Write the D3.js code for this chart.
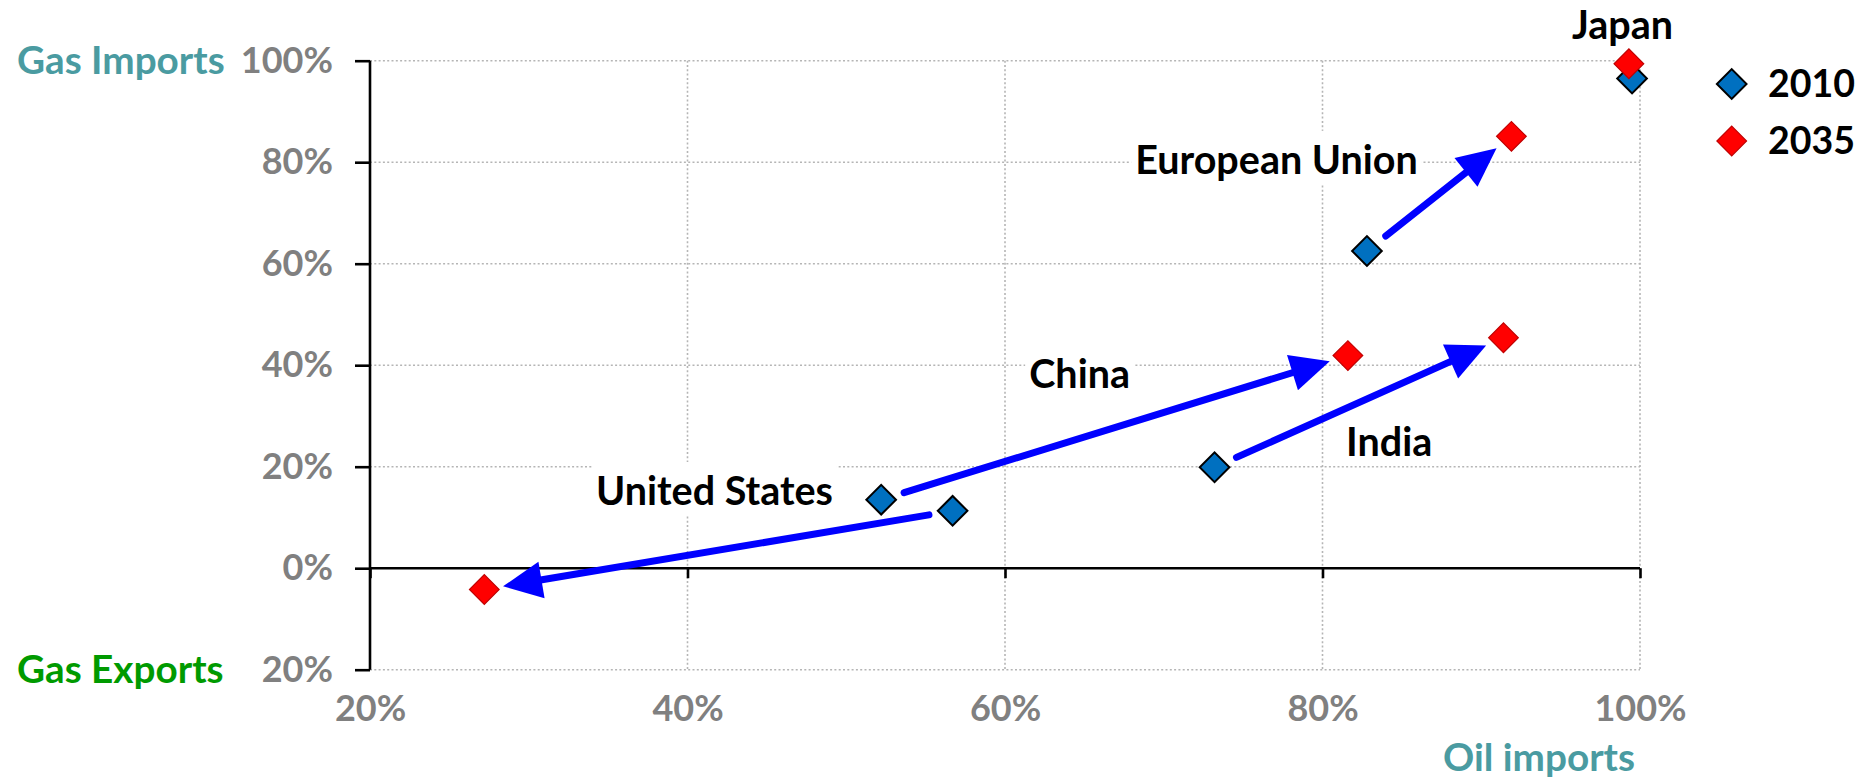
<!DOCTYPE html>
<html>
<head>
<meta charset="utf-8">
<script src="https://cdn.jsdelivr.net/npm/d3@7/dist/d3.min.js"></script>
<style>
  html, body { margin: 0; padding: 0; background: #ffffff; }
  svg { display: block; }
  text { font-family: Lato, "Open Sans", sans-serif; font-weight: bold; }
</style>
</head>
<body>
<svg id="chart" width="1865" height="779"></svg>
<script>
// ---- data ----
const countries = ["Japan", "European Union", "China", "United States", "India"];
const oil2010 = [99.5, 82.8, 52.2, 56.7, 73.2];
const gas2010 = [96.5, 62.5, 13.5, 11.3, 19.9];
const oil2035 = [99.3, 91.9, 81.6, 27.2, 91.4];
const gas2035 = [99.4, 85.1, 41.9, -4.2, 45.4];
const seriesNames = ["2010", "2035"];
const xTicks = [20, 40, 60, 80, 100];
const xTickLabels = ["20%", "40%", "60%", "80%", "100%"];
const yTicks = [-20, 0, 20, 40, 60, 80, 100];
const yTickLabels = ["20%", "0%", "20%", "40%", "60%", "80%", "100%"];
// label anchors (in data units)
const labelOil = [98.9, 77.1, 64.7, 41.7, 84.2];
const labelGas = [104.3, 77.7, 35.5, 12.45, 22.1];

// ---- layout / style ----
const W = 1865, H = 779;
const colors = { "2010": "#0070c0", "2035": "#ff0000" };
const strokes = { "2010": "#000000", "2035": "#c00000" };
const svg = d3.select("#chart");
svg.append("rect").attr("width", W).attr("height", H).attr("fill", "#fff");

const x = d3.scaleLinear().domain([20, 100]).range([370, 1640]);
const y = d3.scaleLinear().domain([-20, 100]).range([669.7, 60.7]);

// grid
const grid = svg.append("g").attr("stroke", "#b5b5b5").attr("stroke-width", 1.6)
  .attr("stroke-dasharray", "2,2.3");
grid.selectAll("line.v").data(xTicks.filter(d => d > 20)).join("line")
  .attr("x1", d => x(d)).attr("x2", d => x(d))
  .attr("y1", y(100)).attr("y2", y(-20));
grid.selectAll("line.h").data(yTicks.filter(d => d !== 0)).join("line")
  .attr("x1", x(20)).attr("x2", x(100))
  .attr("y1", d => y(d)).attr("y2", d => y(d));

// country labels with white boxes
const lab = svg.append("g");
countries.forEach((c, i) => {
  const g = lab.append("g");
  const t = g.append("text")
    .attr("x", x(labelOil[i])).attr("y", y(labelGas[i]))
    .attr("text-anchor", "middle").attr("font-size", 39.5).attr("fill", "#000")
    .text(c);
  const bb = t.node().getBBox();
  const top = Math.max(0, y(labelGas[i]) - 43);
  g.insert("rect", "text")
    .attr("x", bb.x - 4).attr("y", top)
    .attr("width", bb.width + 8).attr("height", y(labelGas[i]) + 10 - top)
    .attr("fill", "#fff");
});

// y axis
const yAxis = d3.axisLeft(y).tickValues(yTicks)
  .tickFormat((d, i) => yTickLabels[i]).tickSize(15).tickPadding(22);
const gy = svg.append("g").attr("transform", `translate(${x(20)},0)`).call(yAxis);
gy.select(".domain").attr("stroke", "#000").attr("stroke-width", 2.6)
  .attr("d", `M0,${y(-20)}V${y(100)}`);
gy.selectAll(".tick line").attr("stroke", "#000").attr("stroke-width", 2.6);
gy.selectAll(".tick text").attr("font-size", 36).attr("fill", "#808080")
  .attr("font-family", "Lato, sans-serif").attr("font-weight", "bold");

// x axis line at zero with ticks
const xAxis0 = d3.axisBottom(x).tickValues(xTicks).tickFormat("").tickSize(10);
const gx0 = svg.append("g").attr("transform", `translate(0,${y(0)})`).call(xAxis0);
gx0.select(".domain").attr("stroke", "#000").attr("stroke-width", 2.6)
  .attr("d", `M${x(20)},0H${x(100)}`);
gx0.selectAll(".tick line").attr("stroke", "#000").attr("stroke-width", 2.6);

// x tick labels at bottom
const xAxisB = d3.axisBottom(x).tickValues(xTicks)
  .tickFormat((d, i) => xTickLabels[i]).tickSize(0).tickPadding(26);
const gxb = svg.append("g").attr("transform", `translate(0,${y(-20)})`).call(xAxisB);
gxb.select(".domain").remove();
gxb.selectAll(".tick text").attr("font-size", 36).attr("fill", "#808080")
  .attr("font-family", "Lato, sans-serif").attr("font-weight", "bold");

// axis titles
svg.append("text").attr("x", 17).attr("y", 74).attr("font-size", 38.7)
  .attr("fill", "#4a9ba1").text("Gas Imports");
svg.append("text").attr("x", 17).attr("y", 683).attr("font-size", 38.7)
  .attr("fill", "#009a00").text("Gas Exports");
svg.append("text").attr("x", 1539).attr("y", 771).attr("font-size", 38.7)
  .attr("text-anchor", "middle").attr("fill", "#4a9ba1").text("Oil imports");

// arrows (2010 -> 2035), skip Japan
const arrows = svg.append("g");
const startGap = 24, tipGap = 19, headLen = 39, headW = 37, lw = 7;
countries.forEach((c, i) => {
  if (c === "Japan") return;
  const x0 = x(oil2010[i]), y0 = y(gas2010[i]);
  const x1 = x(oil2035[i]), y1 = y(gas2035[i]);
  const dx = x1 - x0, dy = y1 - y0, L = Math.hypot(dx, dy);
  const ux = dx / L, uy = dy / L, nx = -uy, ny = ux;
  const sx = x0 + ux * startGap, sy = y0 + uy * startGap;
  const tx = x1 - ux * tipGap, ty = y1 - uy * tipGap;
  const bx = tx - ux * headLen, by = ty - uy * headLen;
  arrows.append("line")
    .attr("x1", sx).attr("y1", sy)
    .attr("x2", bx + ux * 4).attr("y2", by + uy * 4)
    .attr("stroke", "#0000ff").attr("stroke-width", lw).attr("stroke-linecap", "round");
  arrows.append("path")
    .attr("d", d3.line()([[tx, ty], [bx + nx * headW / 2, by + ny * headW / 2], [bx - nx * headW / 2, by - ny * headW / 2]]) + "Z")
    .attr("fill", "#0000ff");
});

// points
const diamond = d3.symbol().type(d3.symbolSquare).size(440);
const pts = svg.append("g");
[[oil2010, gas2010, "2010"], [oil2035, gas2035, "2035"]].forEach(([ox, gy2, s]) => {
  pts.selectAll(null).data(countries.map((c, i) => [ox[i], gy2[i]])).join("path")
    .attr("d", diamond)
    .attr("transform", d => `translate(${x(d[0])},${y(d[1])}) rotate(45)`)
    .attr("fill", colors[s]).attr("stroke", strokes[s])
    .attr("stroke-width", s === "2010" ? 2 : 1.2);
});

// legend
const leg = svg.append("g");
seriesNames.forEach((s, i) => {
  const cy = 84 + i * 57;
  leg.append("path").attr("d", diamond)
    .attr("transform", `translate(1731.7,${cy}) rotate(45)`)
    .attr("fill", colors[s]).attr("stroke", strokes[s])
    .attr("stroke-width", s === "2010" ? 2 : 1.2);
  leg.append("text").attr("x", 1768).attr("y", cy + 13).attr("font-size", 37.5)
    .attr("fill", "#000").text(s);
});
</script>
</body>
</html>
